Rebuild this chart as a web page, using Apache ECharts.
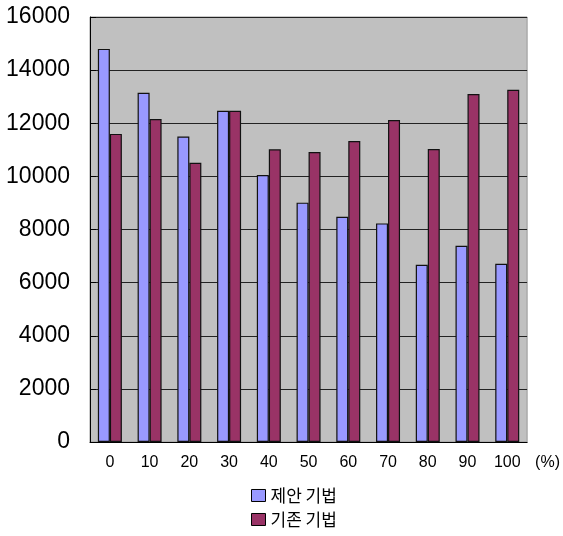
<!DOCTYPE html>
<html>
<head>
<meta charset="utf-8">
<script src="https://cdn.jsdelivr.net/npm/echarts@6/dist/echarts.min.js"></script>
<style>
  html, body { margin: 0; padding: 0; background: #fff; }
  #chart { width: 563px; height: 536px; }
</style>
</head>
<body>
<div id="chart"></div>
<script>
// x categories (%)
var categories = ['0', '10', '20', '30', '40', '50', '60', '70', '80', '90', '100']
// 제안 기법
var proposed = [14800, 13150, 11500, 12470, 10050, 9010, 8480, 8230, 6670, 7390, 6710]
// 기존 기법
var existing = [11600, 12160, 10510, 12470, 11020, 10920, 11330, 12120, 11030, 13100, 13260]
var seriesNames = ['제안 기법', '기존 기법']
var yTicks = [0, 2000, 4000, 6000, 8000, 10000, 12000, 14000, 16000]

var chart = echarts.init(document.getElementById('chart'))
chart.setOption({
  animation: false,
  color: ['#9999FF', '#993366'],
  grid: {
    left: 90,
    right: 34,
    top: 17,
    bottom: 94,
    show: true,
    backgroundColor: '#C0C0C0',
    borderColor: '#999999',
    borderWidth: 1
  },
  legend: {
    data: seriesNames,
    orient: 'vertical',
    left: 251,
    top: 487,
    height: 60,
    itemWidth: 14,
    itemHeight: 12,
    itemGap: 7,
    padding: 0,
    icon: 'rect',
    itemStyle: { borderColor: '#000', borderWidth: 1 },
    textStyle: {
      fontFamily: 'Noto Sans CJK KR',
      fontSize: 17,
      color: '#000'
    }
  },
  xAxis: {
    type: 'category',
    data: categories,
    name: '(%)',
    nameLocation: 'end',
    nameGap: 8,
    nameTextStyle: {
      fontFamily: 'Liberation Sans Narrow, Liberation Sans',
      fontSize: 16,
      color: '#000',
      verticalAlign: 'top',
      padding: [13, 0, 0, 0]
    },
    axisLine: { lineStyle: { color: '#000', width: 1 } },
    axisTick: { inside: true, length: 5, lineStyle: { color: '#000' } },
    axisLabel: {
      margin: 13,
      fontFamily: 'Liberation Sans Narrow, Liberation Sans',
      fontSize: 16,
      color: '#000'
    }
  },
  yAxis: {
    type: 'value',
    min: 0,
    max: yTicks[yTicks.length - 1],
    interval: 2000,
    axisLine: { show: true, lineStyle: { color: '#000', width: 1 } },
    axisTick: { show: true, inside: true, length: 6, lineStyle: { color: '#000' } },
    axisLabel: {
      margin: 20,
      fontFamily: 'Liberation Sans',
      fontSize: 23,
      color: '#000',
      formatter: function (value) {
        return String(value)
      }
    },
    splitLine: { lineStyle: { color: '#222', width: 1 } }
  },
  series: [
    {
      name: seriesNames[0],
      type: 'bar',
      data: proposed,
      barWidth: 12,
      barGap: '0%',
      itemStyle: { borderColor: '#111', borderWidth: 1.2 }
    },
    {
      name: seriesNames[1],
      type: 'bar',
      data: existing,
      barWidth: 12,
      barGap: '0%',
      itemStyle: { borderColor: '#111', borderWidth: 1.2 }
    }
  ]
})
</script>
</body>
</html>
